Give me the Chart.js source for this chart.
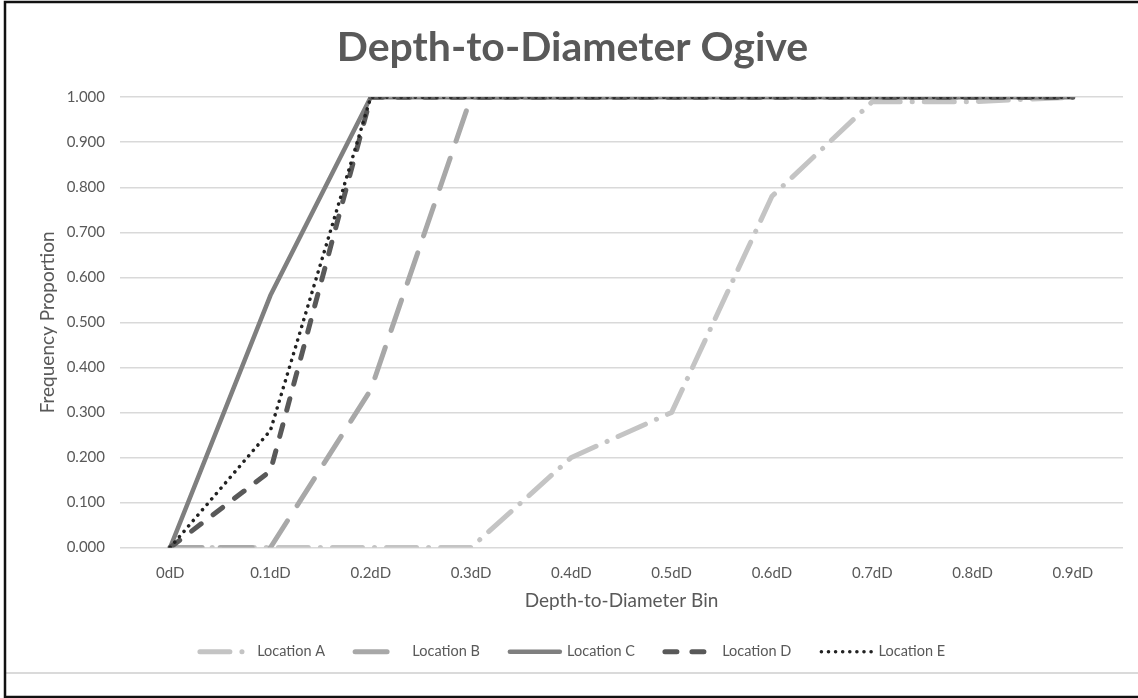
<!DOCTYPE html>
<html>
<head>
<meta charset="utf-8">
<title>Depth-to-Diameter Ogive</title>
<script src="https://cdn.jsdelivr.net/npm/chart.js@4.4.1/dist/chart.umd.min.js"></script>
<style>
  html, body { margin: 0; padding: 0; background: #ffffff; }
  #wrap { position: relative; width: 1138px; height: 698px; }
</style>
</head>
<body>
<div id="wrap"><canvas id="ogive"></canvas></div>
<script>
// Depth-to-diameter bins (category axis)
const bins = ['0dD', '0.1dD', '0.2dD', '0.3dD', '0.4dD', '0.5dD', '0.6dD', '0.7dD', '0.8dD', '0.9dD'];

// Cumulative frequency proportion per location
const locationA = [0, 0, 0, 0, 0.20, 0.30, 0.78, 0.99, 0.99, 1.00];
const locationB = [0, 0, 0.35, 1, 1, 1, 1, 1, 1, 1];
const locationC = [0, 0.56, 1, 1, 1, 1, 1, 1, 1, 1];
const locationD = [0, 0.17, 1, 1, 1, 1, 1, 1, 1, 1];
const locationE = [0, 0.26, 1, 1, 1, 1, 1, 1, 1, 1];

const seriesNames = ['Location A', 'Location B', 'Location C', 'Location D', 'Location E'];

const FONT = 'Lato, "Open Sans", sans-serif';
const TEXT = '#595959';

// White page, outer frame and the rule under the legend
const framePlugin = {
  id: 'frame',
  beforeDraw(chart) {
    const ctx = chart.ctx;
    ctx.save();
    ctx.fillStyle = '#ffffff';
    ctx.fillRect(0, 0, chart.width, chart.height);
    ctx.strokeStyle = '#dadada';
    ctx.lineWidth = 2;
    ctx.beginPath();
    ctx.moveTo(6, 673);
    ctx.lineTo(chart.width, 673);
    ctx.stroke();
    ctx.strokeStyle = '#111111';
    ctx.lineWidth = 2.5;
    ctx.beginPath();
    ctx.moveTo(chart.width, 2);
    ctx.lineTo(5, 2);
    ctx.lineTo(5, 697);
    ctx.lineTo(chart.width, 697);
    ctx.stroke();
    ctx.restore();
  }
};

function series(label, data, color, width, dash, order) {
  return {
    label,
    data,
    borderColor: color,
    backgroundColor: color,
    borderWidth: width,
    borderDash: dash,
    borderCapStyle: 'round',
    borderJoinStyle: 'round',
    pointRadius: 0,
    pointHoverRadius: 0,
    pointStyle: 'line',
    fill: false,
    tension: 0,
    order
  };
}

// Legend entries drawn as short line samples in each series' own dash style
function lineLegendLabels(chart) {
  const items = Chart.defaults.plugins.legend.labels.generateLabels(chart);
  items.forEach((item) => {
    const ds = chart.data.datasets[item.datasetIndex];
    item.lineDash = ds.borderDash;
    item.lineWidth = ds.borderWidth;
    item.strokeStyle = ds.borderColor;
    item.fillStyle = ds.borderColor;
    item.lineCap = 'round';
    item.pointStyle = 'line';
  });
  return items;
}

new Chart(document.getElementById('ogive'), {
  type: 'line',
  data: {
    labels: bins,
    datasets: [
      series(seriesNames[0], locationA, '#c4c4c4', 5, [30, 12, 0.1, 12], 5),
      series(seriesNames[1], locationB, '#a8a8a8', 5, [32, 18], 4),
      series(seriesNames[2], locationC, '#7f7f7f', 4.5, [], 3),
      series(seriesNames[3], locationD, '#595959', 5, [12, 15], 2),
      series(seriesNames[4], locationE, '#222222', 3.5, [0.1, 7], 1)
    ]
  },
  plugins: [framePlugin],
  options: {
    responsive: true,
    maintainAspectRatio: false,
    animation: false,
    devicePixelRatio: 1,
    layout: { padding: { left: 22, right: 15, top: 0, bottom: 29 } },
    plugins: {
      tooltip: { enabled: false },
      title: {
        display: true,
        text: 'Depth-to-Diameter Ogive',
        color: TEXT,
        font: { family: FONT, size: 41, weight: 'bold' },
        padding: { top: 23, bottom: 25 }
      },
      legend: {
        position: 'bottom',
        labels: {
          usePointStyle: true,
          pointStyle: 'line',
          pointStyleWidth: 50,
          padding: 30,
          color: TEXT,
          font: { family: FONT, size: 14.5 },
          generateLabels: lineLegendLabels,
          sort: (a, b) => a.datasetIndex - b.datasetIndex
        }
      }
    },
    scales: {
      x: {
        type: 'category',
        offset: true,
        grid: { display: false, drawTicks: false },
        border: { display: false },
        ticks: { color: TEXT, font: { family: FONT, size: 15 }, padding: 17, maxRotation: 0, autoSkip: false },
        title: {
          display: true,
          text: 'Depth-to-Diameter Bin',
          color: TEXT,
          font: { family: FONT, size: 19 },
          padding: { top: 0, bottom: 2 }
        },
        afterFit(scale) { scale.height = 67; }
      },
      y: {
        min: 0,
        max: 1,
        grid: { color: '#d9d9d9', lineWidth: 1.5, drawTicks: false },
        border: { display: false },
        ticks: {
          stepSize: 0.1,
          color: TEXT,
          font: { family: FONT, size: 15 },
          padding: 15,
          callback: (v) => Number(v).toFixed(3)
        },
        title: {
          display: true,
          text: 'Frequency Proportion',
          color: TEXT,
          font: { family: FONT, size: 19 },
          padding: { top: 14, bottom: 0 }
        },
        afterFit(scale) { scale.width = 98; }
      }
    }
  }
});
</script>
</body>
</html>
